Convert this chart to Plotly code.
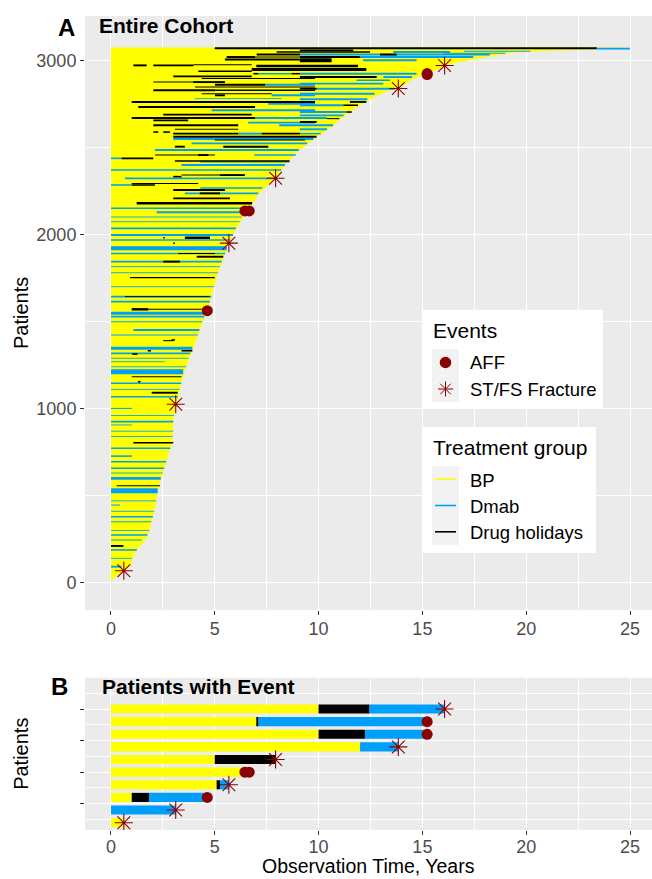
import plotly.graph_objects as go

# ======================= DATA =======================
# Panel A - envelope of observation time (patients sorted by observation time)
env_rank = [0, 15, 44, 69, 98, 130, 168, 207, 240, 284, 360, 437, 551, 647, 743, 810, 934, 1025,
            1049, 1164, 1279, 1394, 1499, 1562, 1643, 1752, 1844, 1950, 2035, 2135, 2179, 2236,
            2323, 2399, 2476, 2523, 2571, 2627, 2657, 2723, 2772, 2818, 2838, 2895, 2924, 2952,
            2970, 2991, 3010, 3030, 3041, 3050, 3060, 3066, 3069, 3073]
env_time = [0.0, 0.05, 0.32, 0.60, 0.98, 1.02, 1.15, 1.38, 1.62, 1.82, 1.98, 2.14, 2.30, 2.54, 2.78,
            2.96, 3.01, 3.12, 3.20, 3.42, 3.74, 4.12, 4.42, 4.64, 4.85, 5.08, 5.35, 5.68, 6.05, 6.55,
            6.85, 7.15, 7.93, 8.40, 9.00, 9.50, 10.05, 10.75, 11.0, 11.75, 12.4, 13.2, 13.84, 14.6,
            15.23, 15.85, 16.07, 16.8, 17.76, 18.6, 19.05, 20.3, 22.3, 24.0, 25.0, 25.0]

# Panel A - Dmab stripes: centre patient rank, patients in band, start, end (years)
dmab_rank = [92, 140, 188, 245, 274, 300, 350, 379, 410, 446, 470, 528, 599, 630, 657, 695, 727,
             772, 840, 870, 906, 925, 960, 1001, 1068, 1110, 1145, 1212, 1240, 1269, 1289, 1317,
             1346, 1422, 1451, 1499, 1528, 1547, 1614, 1643, 1700, 1780, 1815,
             1844, 1891, 1920, 1968, 1997, 2035, 2073, 2100, 2127, 2150, 2236, 2267, 2284, 2322, 2370,
             2399, 2418, 2437, 2456, 2485, 2523, 2548, 2579, 2579, 2604, 2627, 2642, 2669, 2684,
             2703, 2713, 2742, 2751, 2776, 2780, 2799, 2808, 2837, 2860, 2866, 2885, 2904, 2923,
             2923, 3000, 3019, 3033, 3041, 3048, 3052, 3067]
dmab_n = [11, 5, 9, 6, 9, 5, 6, 9, 5, 6, 5, 29, 17, 5, 9, 9, 9,
          9, 5, 5, 5, 9, 5, 6, 9, 5, 9, 29, 5, 5, 5, 9,
          17, 6, 11, 6, 11, 17, 11, 9, 5, 5, 5,
          11, 9, 23, 9, 11, 11, 5, 5, 11, 9, 11, 9, 9, 11, 9,
          11, 9, 9, 9, 11, 11, 11, 11, 9, 11, 11, 11, 11, 11,
          11, 11, 11, 11, 11, 5, 11, 11, 11, 11, 11, 9, 11, 9,
          11, 11, 11, 11, 6, 11, 6, 9]
dmab_start = [0, 0, 0, 0, 0, 0, 0, 0, 0, 0, 0, 0, 0, 0, 0, 0, 0,
              0, 0, 0, 0, 0, 0, 0, 0, 0, 0, 0, 0, 0, 0, 0,
              0, 0, 1.08, 0, 0, 0, 0, 0, 0, 0, 0,
              0, 0, 0, 0, 0, 0, 0, 0, 2.2, 0, 3.56, 4.3, 0, 0.67, 0,
              3.4, 4.3, 0, 6.9, 2.12, 3.88, 3.0, 6.13, 9.1, 9.1, 8.1, 6.61, 6.94, 9.1,
              9.1, 4.85, 9.1, 7.58, 9.1, 4.05, 7.74, 9.1, 9.91, 7.42, 9.1, 11.83, 13.12, 7.1,
              9.1, 12.15, 11.99, 9.1, 16.0, 13.6, 17.0, 23.4]
dmab_end = [0.51, 1.0, 1.25, 1.48, 1.76, 1.85, 1.94, 2.02, 2.08, 0.43, 2.18, 2.25, 2.40, 2.5, 2.56, 2.66, 1.0,
            2.85, 2.98, 3.0, 1.0, 3.0, 3.05, 1.0, 3.22, 3.3, 3.38, 3.48, 3.62, 2.6, 3.72, 3.82,
            3.92, 4.18, 4.26, 4.40, 4.50, 4.55, 4.76, 4.84, 4.98, 5.15, 5.25,
            5.33, 5.50, 5.58, 5.75, 5.88, 6.02, 6.2, 6.3, 6.5, 6.62, 7.1, 7.3, 1.0, 7.9, 8.2,
            8.38, 8.6, 0.51, 8.9, 9.05, 9.45, 9.75, 7.26, 10.1, 10.4, 10.7, 9.83, 10.4, 11.2,
            11.35, 9.83, 11.19, 9.83, 12.35, 8.22, 9.83, 12.7, 13.7, 9.83, 13.12, 13.44, 14.5, 8.7,
            14.72, 14.72, 17.45, 18.25, 19.0, 16.33, 20.2, 25.0]

# Panel A - drug-holiday stripes
hol_rank = [211, 557, 804, 1091, 1154, 1183, 1313, 1332, 1332, 1390, 1394, 1570, 1570, 1643, 1752,
            1844, 1872, 1891, 1949, 1981, 1981, 2179, 2207, 2236, 2255, 2284, 2293, 2332, 2341,
            2341, 2422, 2437, 2456, 2456, 2504, 2504, 2542, 2561, 2579, 2579, 2588, 2588, 2604,
            2627, 2646, 2655, 2665, 2669, 2688, 2703, 2732, 2742, 2761, 2761, 2799, 2808, 2828,
            2828, 2837, 2847, 2860, 2875, 2875, 2895, 2904, 2908, 2923, 2923, 2937, 2947, 2967, 2971,
            2971, 2975, 3000, 3005, 3019, 3019, 3019, 3033, 3033, 3048, 3057, 3069]
hol_n = [11, 6, 9, 11, 9, 6, 9, 9, 9, 6, 9, 14, 6, 5, 6,
         11, 11, 6, 9, 14, 9, 14, 11, 11, 11, 9, 6, 9, 6,
         11, 9, 11, 6, 11, 11, 11, 6, 11, 11, 11, 9, 9, 6,
         11, 11, 9, 6, 11, 11, 9, 11, 9, 11, 11, 11, 6, 11,
         9, 11, 6, 11, 11, 6, 6, 11, 11, 9, 9, 9, 17, 14, 11,
         11, 6, 23, 11, 11, 6, 11, 11, 11, 9, 9, 11]
hol_start = [0, 0.27, 1.08, 1.96, 1.3, 1.0, 1.03, 1.77, 3.4, 2.52, 2.92, 1.0, 1.8, 0.67, 0.92,
             2.52, 4.13, 3.24, 3.0, 3.56, 2.52, 1.24, 3.0, 4.28, 3.0, 1.0, 1.0, 3.0, 3.4,
             5.25, 3.08, 0.51, 2.12, 4.2, 3.08, 5.41, 5.0, 3.0, 3.0, 7.26, 2.04, 2.52, 3.08,
             2.04, 9.1, 2.04, 10.4, 1.0, 2.52, 11.35, 1.32, 11.19, 1.0, 11.51, 5.01, 4.37, 2.04,
             5.01, 9.1, 4.05, 5.01, 3.97, 2.04, 4.37, 9.1, 3.0, 6.86, 8.7, 4.21, 6.78, 7.0, 2.04,
             1.08, 3.97, 9.1, 5.49, 5.57, 6.94, 9.1, 7.02, 12.96, 7.98, 9.1, 5.0]
hol_end = [0.6, 2.36, 3.0, 3.21, 1.42, 3.4, 1.28, 1.93, 3.92, 3.0, 3.08, 1.8, 4.55, 4.75, 5.0,
           3.32, 5.41, 5.01, 3.08, 4.77, 2.6, 6.8, 5.73, 5.25, 5.49, 2.12, 4.2, 3.4, 5.25,
           6.45, 8.6, 2.04, 5.01, 4.69, 3.56, 7.58, 9.35, 9.9, 6.13, 9.1, 2.28, 2.84, 6.13,
           6.13, 9.91, 3.72, 11.0, 6.94, 6.78, 11.6, 6.94, 11.9, 9.83, 12.3, 5.49, 7.74, 5.01,
           9.83, 9.91, 9.83, 7.42, 5.49, 4.05, 9.83, 12.8, 6.78, 7.1, 9.1, 6.78, 12.3, 11.9, 3.97,
           1.72, 6.78, 10.63, 9.1, 6.94, 9.1, 11.99, 9.1, 13.76, 12.48, 11.67, 23.4]

# Panel B - treatment segments of the 10 patients with an event
b_patient = [10, 10, 10, 9, 9, 9, 8, 8, 8, 7, 7, 6, 6, 5, 4, 4, 4, 3, 3, 3, 2, 1]
b_type = ["BP", "Drug holidays", "Dmab", "BP", "Drug holidays", "Dmab", "BP", "Drug holidays", "Dmab",
          "BP", "Dmab", "BP", "Drug holidays", "BP", "BP", "Drug holidays", "Dmab",
          "BP", "Drug holidays", "Dmab", "Dmab", "BP"]
b_start = [0, 10.0, 12.44, 0, 7.0, 7.1, 0, 10.0, 12.23, 0, 12.0, 0, 5.0, 0, 0, 5.09, 5.25,
           0, 1.0, 1.83, 0, 0]
b_end = [10.0, 12.44, 16.07, 7.0, 7.1, 15.23, 10.0, 12.23, 15.23, 12.0, 13.84, 5.0, 7.93, 6.6,
         5.09, 5.25, 5.68, 1.0, 1.83, 4.64, 3.12, 0.62]

# Events (same events in both panels)
ev_patient = [1, 2, 3, 4, 5, 5, 6, 7, 8, 9, 10]
ev_rank = [69, 1025, 1562, 1950, 2135, 2135, 2323, 2838, 2918, 2924, 2970]
ev_type = ["ST/FS Fracture", "ST/FS Fracture", "AFF", "ST/FS Fracture", "AFF", "AFF",
           "ST/FS Fracture", "ST/FS Fracture", "AFF", "AFF", "ST/FS Fracture"]
ev_time = [0.62, 3.12, 4.64, 5.68, 6.45, 6.66, 7.93, 13.84, 15.23, 15.23, 16.07]

x_ticks = [0, 5, 10, 15, 20, 25]
yA_ticks = [0, 1000, 2000, 3000]
yB_ticks = [2.5, 5, 7.5, 10, 12.5]

# ======================= STYLE / LAYOUT =======================
W, H = 652, 879
FONT = "Liberation Sans, Arial, sans-serif"
YELLOW = "#FFFF00"
BLUE = "#00A0FA"
BLACK = "#000000"
RED = "#8B0000"
COLORS = {"BP": YELLOW, "Dmab": BLUE, "Drug holidays": BLACK}

# pixel geometry of panels
X_L, X_R = 85, 652
A_T, A_B = 16, 610
B_T, B_B = 677.7, 830
X_RANGE = [-1.25, (X_R - 111) / 20.76]
YA_RANGE = [-156.8, 3254.5]
YB_RANGE = [0.42, 12.48]
PX_PER_PT = (A_B - A_T) / (YA_RANGE[1] - YA_RANGE[0])
PX_PER_B = (B_B - B_T) / (YB_RANGE[1] - YB_RANGE[0])


def px(x):
    return x / W


def py(y):
    return 1 - y / H


fig = go.Figure()

# ---- Panel A ----
fig.add_trace(go.Scatter(x=env_time + [0], y=env_rank + [env_rank[-1]], mode="lines",
                         fill="toself", fillcolor=YELLOW, line=dict(width=0, color=YELLOW),
                         xaxis="x", yaxis="y", showlegend=False, hoverinfo="skip"))


def seg_traces(ranks, ns, starts, ends, color):
    out = []
    for n in sorted(set(ns)):
        xs, ys = [], []
        for r, k, s, e in zip(ranks, ns, starts, ends):
            if k == n:
                xs += [s, e, None]
                ys += [r, r, None]
        out.append(go.Scatter(x=xs, y=ys, mode="lines",
                              line=dict(color=color, width=n * PX_PER_PT),
                              xaxis="x", yaxis="y", showlegend=False, hoverinfo="skip"))
    return out


for t in seg_traces(dmab_rank, dmab_n, dmab_start, dmab_end, BLUE):
    fig.add_trace(t)
for t in seg_traces(hol_rank, hol_n, hol_start, hol_end, BLACK):
    fig.add_trace(t)

STAR = dict(symbol="asterisk-open", size=15, color=RED, line=dict(color=RED, width=1.1))
DOT = dict(symbol="circle", size=11, color=RED, line=dict(width=0))

for typ, mk in (("AFF", DOT), ("ST/FS Fracture", STAR)):
    fig.add_trace(go.Scatter(
        x=[t for t, k in zip(ev_time, ev_type) if k == typ],
        y=[r for r, k in zip(ev_rank, ev_type) if k == typ],
        mode="markers", marker=mk, xaxis="x", yaxis="y", showlegend=False, hoverinfo="skip"))

# ---- Panel B ----
for typ in ("BP", "Dmab", "Drug holidays"):
    xs, ys = [], []
    for p, k, s, e in zip(b_patient, b_type, b_start, b_end):
        if k == typ:
            xs += [s, e, None]
            ys += [p, p, None]
    fig.add_trace(go.Scatter(x=xs, y=ys, mode="lines",
                             line=dict(color=COLORS[typ], width=0.72 * PX_PER_B),
                             xaxis="x2", yaxis="y2", showlegend=False, hoverinfo="skip"))

for typ, mk in (("AFF", DOT), ("ST/FS Fracture", STAR)):
    fig.add_trace(go.Scatter(
        x=[t for t, k in zip(ev_time, ev_type) if k == typ],
        y=[p for p, k in zip(ev_patient, ev_type) if k == typ],
        mode="markers", marker=mk, xaxis="x2", yaxis="y2", showlegend=False, hoverinfo="skip"))

# ---- axes ----
GRID = dict(showgrid=True, gridcolor="white", gridwidth=1.1, zeroline=False, showline=False,
            ticks="outside", ticklen=4, tickwidth=1, tickcolor="#333333",
            tickfont=dict(family=FONT, size=18, color="#4D4D4D"))

fig.update_layout(
    width=W, height=H, margin=dict(l=0, r=0, t=0, b=0),
    paper_bgcolor="white", plot_bgcolor="#EBEBEB", showlegend=False,
    font=dict(family=FONT),
    xaxis=dict(domain=[px(X_L), px(X_R)], range=X_RANGE, anchor="y", tickmode="array",
               tickvals=x_ticks, automargin=False, ticklabelstandoff=-2,
               minor=dict(tick0=0, dtick=2.5, showgrid=True, gridcolor="white", gridwidth=0.55),
               **GRID),
    yaxis=dict(domain=[py(A_B), py(A_T)], range=YA_RANGE, anchor="x", tickmode="array",
               tickvals=yA_ticks, automargin=False,
               minor=dict(tick0=0, dtick=500, showgrid=True, gridcolor="white", gridwidth=0.55),
               **GRID),
    xaxis2=dict(domain=[px(X_L), px(X_R)], range=X_RANGE, anchor="y2", tickmode="array",
                tickvals=x_ticks, automargin=False, ticklabelstandoff=-4,
                minor=dict(tick0=0, dtick=2.5, showgrid=True, gridcolor="white", gridwidth=0.55),
                **GRID),
    yaxis2=dict(domain=[py(B_B), py(B_T)], range=YB_RANGE, anchor="x2", tickmode="array",
                tickvals=yB_ticks, showticklabels=False, automargin=False,
                minor=dict(tick0=0, dtick=1.25, showgrid=True, gridcolor="white", gridwidth=0.55),
                **GRID),
)

# ---- text ----
def ann(text, x, y, size, bold=False, xanchor="left", angle=0, color="black", yanchor="middle"):
    fig.add_annotation(text=("<b>%s</b>" % text) if bold else text, x=px(x), y=py(y),
                       xref="paper", yref="paper", showarrow=False, xanchor=xanchor,
                       yanchor=yanchor, textangle=angle,
                       font=dict(family=FONT, size=size, color=color))


ann("A", 66.5, 27, 24, bold=True, xanchor="center")
ann("Entire Cohort", 97, 26, 21, bold=True)
ann("B", 59.5, 686, 24, bold=True, xanchor="center")
ann("Patients with Event", 100, 686, 21, bold=True)
ann("Patients", 21, (A_T + A_B) / 2, 20, xanchor="center", angle=-90)
ann("Patients", 21, (B_T + B_B) / 2, 20, xanchor="center", angle=-90)
ann("Observation Time, Years", (X_L + X_R) / 2, 879, 19.5, xanchor="center", yanchor="bottom")

# ---- legends (drawn manually, ggplot style) ----
def rect(x0, y0, x1, y1, fill):
    fig.add_shape(type="rect", xref="paper", yref="paper", x0=px(x0), x1=px(x1),
                  y0=py(y1), y1=py(y0), fillcolor=fill, line=dict(width=0), layer="above")


def seg(x0, y0, x1, y1, color, width):
    fig.add_shape(type="line", xref="paper", yref="paper", x0=px(x0), x1=px(x1),
                  y0=py(y0), y1=py(y1), line=dict(color=color, width=width), layer="above")


rect(423, 310, 603, 408, "white")
rect(423, 427, 596, 553, "white")
rect(432, 349, 459, 375.5, "#F2F2F2")
rect(432, 375.5, 459, 402, "#F2F2F2")
for i in range(3):
    rect(432, 466 + 26.3 * i, 459, 466 + 26.3 * (i + 1), "#F2F2F2")

# AFF dot
cx, cy, r = 445.5, 362.5, 5.8
fig.add_shape(type="circle", xref="paper", yref="paper", x0=px(cx - r), x1=px(cx + r),
              y0=py(cy + r), y1=py(cy - r), fillcolor=RED, line=dict(width=0), layer="above")
# fracture star
cx, cy, a = 445.5, 389, 7.5
d = a * 0.7071
seg(cx - a, cy, cx + a, cy, RED, 1)
seg(cx, cy - a, cx, cy + a, RED, 1)
seg(cx - d, cy - d, cx + d, cy + d, RED, 1)
seg(cx - d, cy + d, cx + d, cy - d, RED, 1)
# treatment lines
for i, typ in enumerate(("BP", "Dmab", "Drug holidays")):
    yy = 479.2 + 26.3 * i
    seg(435, yy, 456, yy, COLORS[typ], 1.6)

ann("Events", 431, 330, 21)
ann("AFF", 468, 363, 18.5)
ann("ST/FS Fracture", 468, 390, 18.5)
ann("Treatment group", 431, 447, 21)
ann("BP", 468, 480, 18.5)
ann("Dmab", 468, 506, 18.5)
ann("Drug holidays", 468, 532.5, 18.5)

fig.write_html("out.html", config={"displayModeBar": False},
               post_script="document.body.style.margin='0px';document.body.style.overflow='hidden';")
